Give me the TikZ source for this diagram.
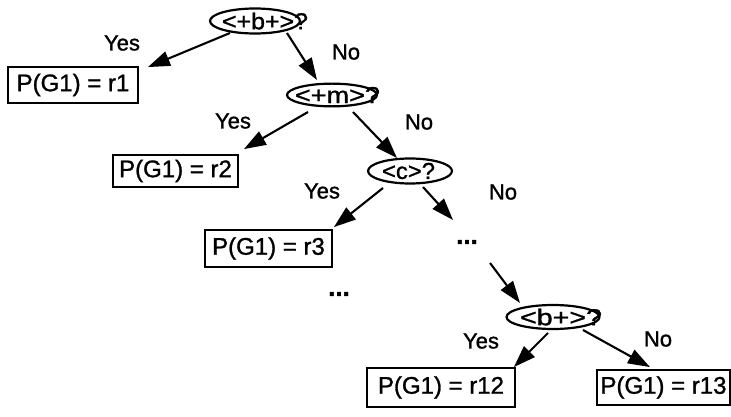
\documentclass[tikz,border=0pt]{standalone}
\usepackage{fontspec}
\setmainfont{Liberation Sans}[FakeBold=1.2]
\usetikzlibrary{arrows.meta,shapes.geometric}
% question text inside an ellipse: stretched to a given width, shifted right by #2/2
\newcommand{\qtext}[3]{\makebox[0pt]{\hspace*{#2}\resizebox{#1}{\height}{#3}}}
\begin{document}
\begin{tikzpicture}[x=1pt,y=-1pt,
  ell/.style={draw,ellipse,line width=2.2pt,inner sep=0pt,
    font=\fontsize{23}{23}\selectfont},
  rbox/.style={draw,rectangle,line width=1.8pt,inner sep=0pt,
    font=\fontsize{24}{24}\selectfont},
  lab/.style={inner sep=0pt,font=\fontsize{22}{22}\selectfont},
  dotsn/.style={inner sep=0pt,font=\fontsize{26}{26}\selectfont\bfseries},
  arr/.style={line width=2.1pt,-{Triangle[length=22pt,width=15pt]}}]
\useasboundingbox (0,0) rectangle (731,417);

% questions
\node[ell,minimum width=90pt,minimum height=25pt] (e1) at (255,21)
  {\qtext{86pt}{20pt}{<+b+>?}};
\node[ell,minimum width=90pt,minimum height=21pt] (e2) at (332,95)
  {\qtext{85pt}{11pt}{<+m>?}};
\node[ell,minimum width=84pt,minimum height=25pt] (e3) at (410,171)
  {\qtext{53pt}{-3pt}{<c>?}};
\node[ell,minimum width=93pt,minimum height=24pt] (e4) at (553,317)
  {\qtext{82pt}{16pt}{<b+>?}};

% results
\node[rbox,minimum width=130pt,minimum height=36pt] (r1) at (73,85) {P(G1) = r1};
\node[rbox,minimum width=125pt,minimum height=32pt] (r2) at (175.5,171) {P(G1) = r2};
\node[rbox,minimum width=127pt,minimum height=37pt] (r3) at (268.5,248.5) {P(G1) = r3};
\node[rbox,minimum width=148pt,minimum height=39pt] (r12) at (441,387.5) {P(G1) = r12};
\node[rbox,minimum width=133pt,minimum height=35pt] (r13) at (663.5,387.5) {P(G1) = r13};

% elided levels
\node[dotsn] (d1) at (467,242) {...};
\node[dotsn] (d2) at (339,294) {...};

% branch labels
\node[lab] (y1) at (122,43) {Yes};
\node[lab] (n1) at (346,52) {No};
\node[lab] (y2) at (233,121) {Yes};
\node[lab] (n2) at (419,122) {No};
\node[lab] (y3) at (322,191) {Yes};
\node[lab] (n3) at (503,192) {No};
\node[lab] (y4) at (481,341) {Yes};
\node[lab] (n4) at (658,339) {No};

% branches
\draw[arr] ([shift={(-25,12)}]e1.center) -- ([shift={(9,1)}]r1.north east);
\draw[arr] ([shift={(32,12)}]e1.center) -- ([shift={(-15,-15)}]e2.center);
\draw[arr] ([shift={(-24,17)}]e2.center) -- ([shift={(5,-5)}]r2.north east);
\draw[arr] ([shift={(21,17)}]e2.center) -- ([shift={(-13,-13)}]e3.center);
\draw[arr] ([shift={(-27,17)}]e3.center) -- ([shift={(1,-2)}]r3.north east);
\draw[arr] ([shift={(13,16)}]e3.center) -- ([shift={(-14,-22)}]d1.center);
\draw[arr] ([shift={(23,21)}]d1.center) -- ([shift={(-33,-14)}]e4.center);
\draw[arr] ([shift={(-5,16)}]e4.center) -- ([shift={(-2,0)}]r12.north east);
\draw[arr] ([shift={(30,13)}]e4.center) -- ([shift={(-13.5,-2)}]r13.north);
\end{tikzpicture}
\end{document}
